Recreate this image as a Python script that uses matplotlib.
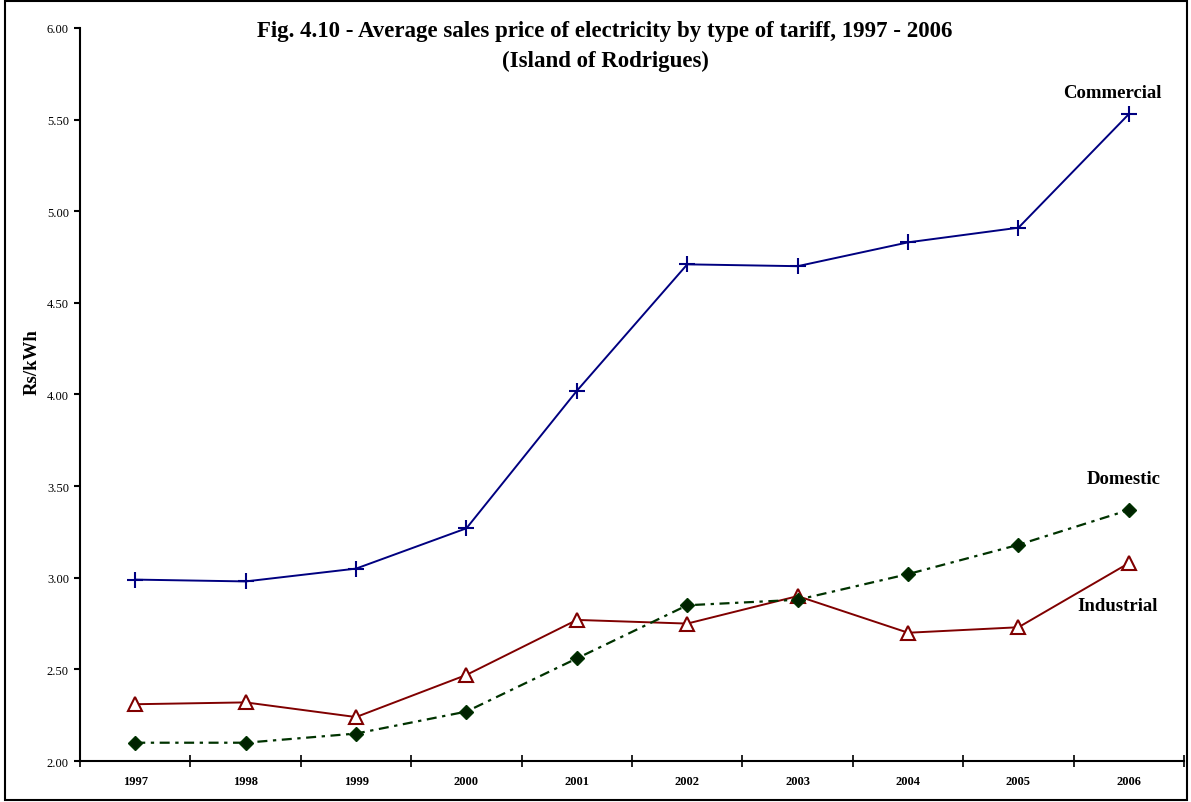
import matplotlib.pyplot as plt
from matplotlib.patches import Rectangle

years = ["1997", "1998", "1999", "2000", "2001", "2002", "2003", "2004", "2005", "2006"]
commercial = [2.99, 2.98, 3.05, 3.27, 4.02, 4.71, 4.70, 4.83, 4.91, 5.53]
domestic = [2.10, 2.10, 2.15, 2.27, 2.56, 2.85, 2.88, 3.02, 3.18, 3.37]
industrial = [2.31, 2.32, 2.24, 2.47, 2.77, 2.75, 2.90, 2.70, 2.73, 3.08]

plt.rcParams['font.family'] = ['Liberation Serif', 'DejaVu Serif']

fig = plt.figure(figsize=(11.91, 8.03), dpi=100)
ax = fig.add_axes([0.0672, 0.051, 0.927, 0.913])

x = list(range(len(years)))
ax.plot(x, commercial, color='#000080', lw=1.4, marker='+', ms=11, mew=1.5)
ax.plot(x, industrial, color='#800000', lw=1.4, marker='^', ms=10,
        mfc='white', mec='#800000', mew=1.5)
ax.plot(x, domestic, color='#003300', lw=1.6, linestyle=(0, (4.5, 2.5, 1.5, 2.5)),
        marker='D', ms=7, mfc='#002200', mec='#003300')

ax.set_xlim(-0.5, len(years) - 0.5)
ax.set_ylim(2.0, 6.0)
ax.set_yticks([2.0, 2.5, 3.0, 3.5, 4.0, 4.5, 5.0, 5.5, 6.0])
ax.set_yticklabels([f"{v:.2f}" for v in ax.get_yticks()], fontsize=9)
ax.set_xticks(x)
ax.set_xticklabels(years, fontsize=9, fontweight='bold')
ax.set_xticks([i - 0.5 for i in range(len(years) + 1)], minor=True)
ax.tick_params(axis='x', which='major', length=0, pad=10)
ax.tick_params(axis='x', which='minor', direction='inout', length=8, width=1.2)
ax.tick_params(axis='y', direction='out', length=4, width=1.5, pad=4)

for s in ['top', 'right']:
    ax.spines[s].set_visible(False)
ax.spines['left'].set_linewidth(1.5)
ax.spines['bottom'].set_linewidth(1.5)

ax.set_ylabel("Rs/kWh", fontsize=13.5, fontweight='bold')
ax.yaxis.set_label_coords(-0.036, 0.546)

fig.text(0.508, 0.961, "Fig. 4.10 - Average sales price of electricity by type of tariff, 1997 - 2006",
         ha='center', va='center', fontsize=16.5, fontweight='bold')
fig.text(0.508, 0.923, "(Island of Rodrigues)", ha='center', va='center',
         fontsize=16.5, fontweight='bold')

ax.text(8.85, 5.65, "Commercial", ha='center', va='center', fontsize=13.5, fontweight='bold')
ax.text(8.95, 3.54, "Domestic", ha='center', va='center', fontsize=13.5, fontweight='bold')
ax.text(8.9, 2.85, "Industrial", ha='center', va='center', fontsize=13.5, fontweight='bold')

fig.patches.append(Rectangle((0.0045, 0.003), 0.992, 0.994, transform=fig.transFigure,
                             fill=False, edgecolor='black', lw=1.5))

fig.savefig("out.png", dpi=100)
